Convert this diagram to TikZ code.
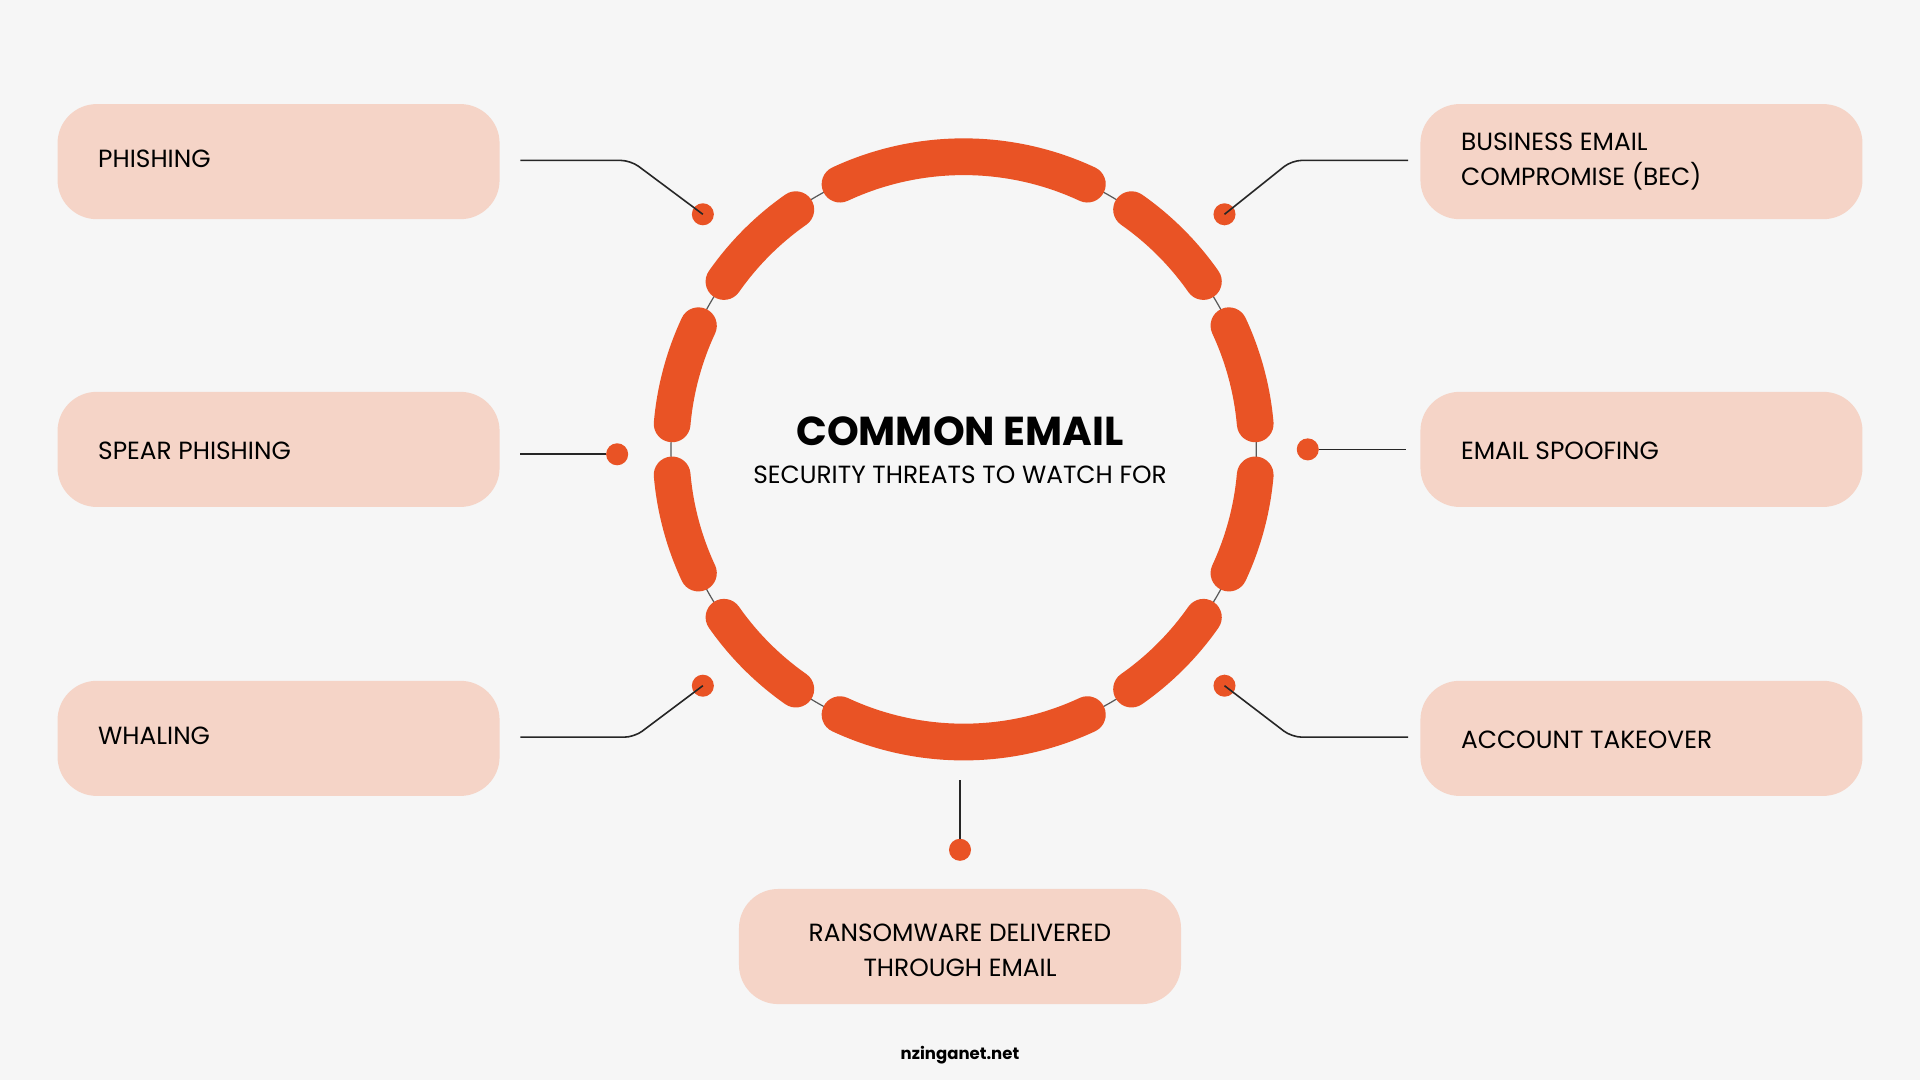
\documentclass[tikz,border=0pt]{standalone}
\usepackage{fontspec}
\setmainfont{Poppins}
\usetikzlibrary{calc}
\definecolor{bg}{HTML}{F6F6F6}
\definecolor{boxc}{HTML}{F5D4C7}
\definecolor{org}{HTML}{E95325}
\begin{document}
\begin{tikzpicture}[x=1pt,y=-1pt,
  box/.style={fill=boxc,rounded corners=32pt,minimum width=361pt,minimum height=94pt,inner sep=0pt},
  lbl/.style={font=\fontsize{20.3}{28.5}\selectfont,align=left,anchor=west,inner sep=0pt},
  seg/.style={org,line width=30pt,line cap=round},
  con/.style={black!85,line width=1.3pt},
  dot/.style={circle,fill=org,minimum size=18pt,inner sep=0pt}]
\fill[bg] (0,0) rectangle (1568,882);
\useasboundingbox (0,0) rectangle (1568,882);
\coordinate (c) at (787,367);
\draw[gray!70!black,line width=1pt] (c) circle (239);
\foreach \a/\b in {65/115,35/55,5/25,-25/-5,-55/-35,-115/-65,-145/-125,-175/-155,155/175,125/145}
  \draw[seg] ($(c)+(\a:239)$) arc[start angle=\a,end angle=\b,radius=239];
\node[font=\fontsize{33}{36}\selectfont\bfseries] (t) at (784,352) {COMMON EMAIL};
\node[font=\fontsize{20.3}{24}\selectfont] (s) at (784,388) {SECURITY THREATS TO WATCH FOR};
\node[box] (b1) at (227.5,132) {}; \node[lbl] at (80,130) {PHISHING};
\node[box] (b2) at (227.5,367) {}; \node[lbl] at (80,368) {SPEAR PHISHING};
\node[box] (b3) at (227.5,603) {}; \node[lbl] at (80,601) {WHALING};
\node[box] (b4) at (1340.5,132) {}; \node[lbl] at (1193,132) {BUSINESS EMAIL\\COMPROMISE (BEC)};
\node[box] (b5) at (1340.5,367) {}; \node[lbl] at (1193,368) {EMAIL SPOOFING};
\node[box] (b6) at (1340.5,603) {}; \node[lbl] at (1193,604) {ACCOUNT TAKEOVER};
\node[box] (b7) at (784,773) {}; \node[font=\fontsize{20.3}{28.5}\selectfont,align=center] at (784,776) {RANSOMWARE DELIVERED\\THROUGH EMAIL};
\node[dot] (d1) at (574,175) {};
\node[dot] (d2) at (504,371) {};
\node[dot] (d3) at (574,560) {};
\node[dot] (d4) at (1000,175) {};
\node[dot] (d5) at (1068,367) {};
\node[dot] (d6) at (1000,560) {};
\node[dot] (d7) at (784,694) {};
\coordinate (e1) at (425,131); \coordinate (e2) at (425,371); \coordinate (e3) at (425,602);
\coordinate (e4) at (1150,131); \coordinate (e5) at (1148,367); \coordinate (e6) at (1150,602);
\coordinate (e7) at (784,637);
\draw[con,rounded corners=8pt] (e1) -- (515,131) -- (d1.center);
\draw[con] (e2) -- (d2);
\draw[con,rounded corners=8pt] (e3) -- (518,602) -- (d3.center);
\draw[con,rounded corners=8pt] (e4) -- (1055,131) -- (d4.center);
\draw[con] (e5) -- (d5);
\draw[con,rounded corners=8pt] (e6) -- (1055,602) -- (d6.center);
\draw[con] (e7) -- (d7);
\node[font=\fontsize{13.5}{16}\selectfont\bfseries] (w) at (784,862) {nzinganet.net};
\end{tikzpicture}
\end{document}
